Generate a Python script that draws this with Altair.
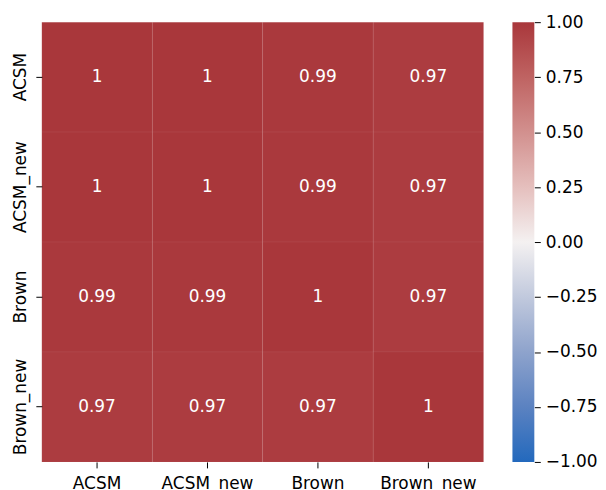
import altair as alt
import pandas as pd

# correlation matrix
names = ["ACSM", "ACSM_new", "Brown", "Brown_new"]
corr = [
    [1.0, 1.0, 0.99, 0.97],
    [1.0, 1.0, 0.99, 0.97],
    [0.99, 0.99, 1.0, 0.97],
    [0.97, 0.97, 0.97, 1.0],
]

# colour bar ticks and vlag-like palette
cbar_ticks = [-1.0, -0.75, -0.5, -0.25, 0.0, 0.25, 0.5, 0.75, 1.0]
vlag_stops = [-1.0, -0.75, -0.5, -0.25, 0.0, 0.25, 0.5, 0.75, 1.0]
vlag_colors = ["#2369bd", "#5b82c1", "#8ea3cc", "#c1c9dd", "#f4f1f1",
               "#e5bfbd", "#d2908e", "#bf6362", "#a9373b"]

FONT = "DejaVu Sans"

rows = []
for i, r in enumerate(names):
    for j, c in enumerate(names):
        rows.append({"row": r, "col": c, "r": corr[i][j]})
df = pd.DataFrame(rows)

color_scale = alt.Scale(domain=vlag_stops, range=vlag_colors, interpolate="rgb")

base = alt.Chart(df).encode(
    x=alt.X("col:N", sort=names, title=None,
            axis=alt.Axis(labelAngle=0, domain=False, tickSize=6, tickColor="black",
                          labelColor="black", labelFontSize=17, labelFont=FONT,
                          labelPadding=8)),
    y=alt.Y("row:N", sort=names, title=None,
            axis=alt.Axis(labelAngle=270, labelAlign="center", labelBaseline="bottom",
                          domain=False, tickSize=6, tickColor="black",
                          labelColor="black", labelFontSize=17, labelFont=FONT,
                          labelPadding=6)),
)

cells = base.mark_rect(stroke="white", strokeOpacity=0.05, strokeWidth=1).encode(
    color=alt.Color("r:Q", scale=color_scale, legend=None)
)
labels = base.mark_text(color="white", fontSize=17, font=FONT).encode(
    text=alt.Text("r:Q", format="~g")
)
heat = (cells + labels).properties(width=444, height=442)

grad = alt.Gradient(
    gradient="linear",
    stops=[alt.GradientStop(offset=(v + 1) / 2, color=c) for v, c in zip(vlag_stops, vlag_colors)],
    x1=0, x2=0, y1=1, y2=0,
)
cbar = alt.Chart(pd.DataFrame({"lo": [-1.0], "hi": [1.0]})).mark_rect(color=grad).encode(
    y=alt.Y("lo:Q", scale=alt.Scale(domain=[-1, 1], nice=False, zero=False), title=None,
            axis=alt.Axis(orient="right", values=cbar_ticks, format=".2f", domain=False,
                          grid=False, tickSize=6, tickColor="black", labelColor="black",
                          labelFontSize=17, labelFont=FONT, labelPadding=5)),
    y2="hi:Q",
    x=alt.value(0),
    x2=alt.value(22),
).properties(width=22, height=442)

chart = alt.hconcat(heat, cbar, spacing=28).configure_view(stroke=None).properties(
    padding={"left": 4, "top": 4, "right": 0, "bottom": 0}
)

chart.save("out.html", embed_options={"renderer": "svg", "actions": False})
